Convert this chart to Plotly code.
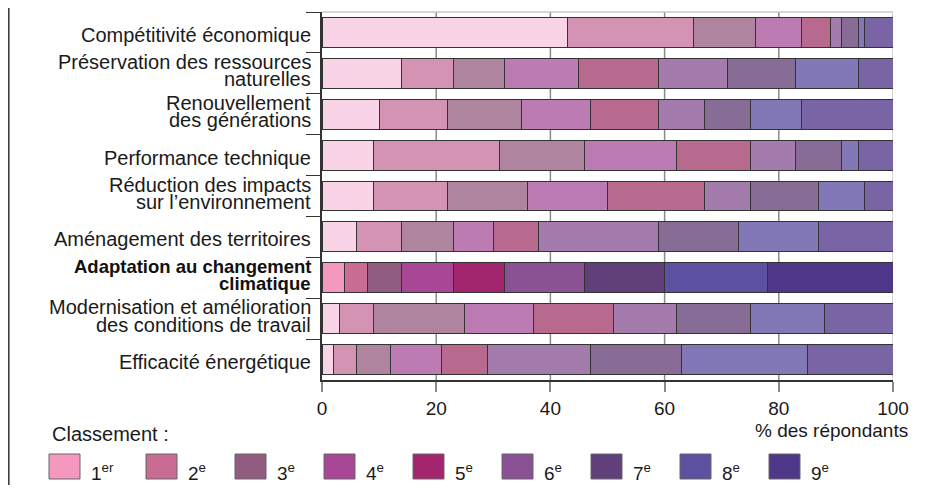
import plotly.graph_objects as go

categories = [
    "Compétitivité économique",
    "Préservation des ressources naturelles",
    "Renouvellement des générations",
    "Performance technique",
    "Réduction des impacts sur l’environnement",
    "Aménagement des territoires",
    "Adaptation au changement climatique",
    "Modernisation et amélioration des conditions de travail",
    "Efficacité énergétique",
]
label_lines = [
    ["Compétitivité économique"],
    ["Préservation des ressources", "naturelles"],
    ["Renouvellement", "des générations"],
    ["Performance technique"],
    ["Réduction des impacts", "sur l’environnement"],
    ["Aménagement des territoires"],
    ["Adaptation au changement", "climatique"],
    ["Modernisation et amélioration", "des conditions de travail"],
    ["Efficacité énergétique"],
]
highlight_cat = "Adaptation au changement climatique"

rank_labels = ["1<sup>er</sup>", "2<sup>e</sup>", "3<sup>e</sup>", "4<sup>e</sup>", "5<sup>e</sup>",
               "6<sup>e</sup>", "7<sup>e</sup>", "8<sup>e</sup>", "9<sup>e</sup>"]

r1 = [43, 14, 10, 9, 9, 6, 4, 3, 2]
r2 = [22, 9, 12, 22, 13, 8, 4, 6, 4]
r3 = [11, 9, 13, 15, 14, 9, 6, 16, 6]
r4 = [8, 13, 12, 16, 14, 7, 9, 12, 9]
r5 = [5, 14, 12, 13, 17, 8, 9, 14, 8]
r6 = [2, 12, 8, 8, 8, 21, 14, 11, 18]
r7 = [3, 12, 8, 8, 12, 14, 14, 13, 16]
r8 = [1, 11, 9, 3, 8, 14, 18, 13, 22]
r9 = [5, 6, 16, 6, 5, 13, 22, 12, 15]
ranks = [r1, r2, r3, r4, r5, r6, r7, r8, r9]

x_ticks = [0, 20, 40, 60, 80, 100]

colors_normal = ['#f9d4e6', '#d593b3', '#ae849e', '#bd7bb3', '#b8698e',
                 '#a37bac', '#876c96', '#8277b7', '#7965a5']
colors_strong = ['#f498c0', '#c86c94', '#925c80', '#a84796', '#a3256d',
                 '#8a5294', '#613f7a', '#5c51a1', '#4e3789']

FONT = "Liberation Sans"
OFF = 8                       # page body margin
W, H = 947 - 2 * OFF, 493 - 2 * OFF
# plot area in page pixels
L, R, T, B = 322, 893, 12, 380


def px2x(px):
    return (px - L) / (R - L)


def py2y(py):
    return (B - py) / (B - T)


fig = go.Figure()
for i, vals in enumerate(ranks):
    cols = [colors_strong[i] if c == highlight_cat else colors_normal[i] for c in categories]
    fig.add_trace(go.Bar(
        y=categories, x=vals, orientation='h', name=rank_labels[i],
        marker=dict(color=cols, line=dict(color='#333333', width=1)),
        showlegend=False,
    ))

shapes = []
for gx in [20, 40, 60, 80]:
    shapes.append(dict(type='line', xref='x', yref='paper', x0=gx, x1=gx, y0=0, y1=1,
                       line=dict(color='#8a8a8a', width=1.5), layer='below'))
shapes.append(dict(type='line', xref='x', yref='paper', x0=100, x1=100, y0=0, y1=1,
                   line=dict(color='#c8c8c8', width=1.5), layer='below'))
shapes.append(dict(type='line', xref='paper', yref='paper', x0=0, x1=1, y0=1, y1=1,
                   line=dict(color='#c8c8c8', width=1.5), layer='below'))
# left border of the figure
shapes.append(dict(type='line', xref='paper', yref='paper', x0=px2x(OFF + 0.8), x1=px2x(OFF + 0.8),
                   y0=py2y(OFF), y1=py2y(OFF + H), line=dict(color='#333333', width=1.5)))

annotations = []
for cat, lines in zip(categories, label_lines):
    bold = cat == highlight_cat
    fnt = dict(family=FONT, size=18.5 if bold else 20, color='#111111' if bold else '#1a1a1a',
               weight=700 if bold else 400)
    shifts = [-2.5] if len(lines) == 1 else [11.5, -6]
    for ln, sh in zip(lines, shifts):
        annotations.append(dict(xref='paper', yref='y', x=0, y=cat, xshift=-9, yshift=sh,
                                text=ln, showarrow=False, xanchor='right', yanchor='middle',
                                font=fnt))

annotations.append(dict(xref='paper', yref='paper', x=px2x(910), y=py2y(430),
                        text="% des répondants", showarrow=False, xanchor='right',
                        yanchor='middle', font=dict(family=FONT, size=19, color='#1a1a1a')))
annotations.append(dict(xref='paper', yref='paper', x=px2x(50), y=py2y(434),
                        text="Classement :", showarrow=False, xanchor='left',
                        yanchor='middle', font=dict(family=FONT, size=20, color='#1a1a1a')))

sq_x = [49, 146, 235, 324, 413, 502, 591, 680, 769]
for i, sx in enumerate(sq_x):
    shapes.append(dict(type='rect', xref='paper', yref='paper',
                       x0=px2x(sx), x1=px2x(sx + 31), y0=py2y(479), y1=py2y(454),
                       fillcolor=colors_strong[i], line=dict(color='#666666', width=1)))
    annotations.append(dict(xref='paper', yref='paper', x=px2x(sx + 40), y=py2y(472),
                            text=rank_labels[i], showarrow=False, xanchor='left',
                            yanchor='middle', font=dict(family=FONT, size=19, color='#1a1a1a')))

fig.update_layout(
    width=W, height=H,
    margin=dict(l=L - OFF, r=OFF + W - R, t=T - OFF, b=OFF + H - B, pad=0),
    barmode='stack', bargap=0.267,
    plot_bgcolor='white', paper_bgcolor='white',
    shapes=shapes, annotations=annotations,
    font=dict(family=FONT, size=19, color='#1a1a1a'),
    xaxis=dict(range=[0, 100], tickvals=x_ticks, ticktext=[str(v) for v in x_ticks],
               showgrid=False, zeroline=False, showline=True, linecolor='#333333', linewidth=1.5,
               ticks='outside', ticklen=10, tickcolor='#8a8a8a', tickwidth=1.5,
               tickfont=dict(family=FONT, size=19, color='#1a1a1a')),
    yaxis=dict(type='category', categoryorder='array', categoryarray=categories,
               autorange='reversed', showticklabels=False, showgrid=False, zeroline=False,
               showline=True, linecolor='#333333', linewidth=1.5,
               ticks='outside', tickson='boundaries', ticklen=14, tickcolor='#333333', tickwidth=1.2),
)

fig.write_html("out.html")
